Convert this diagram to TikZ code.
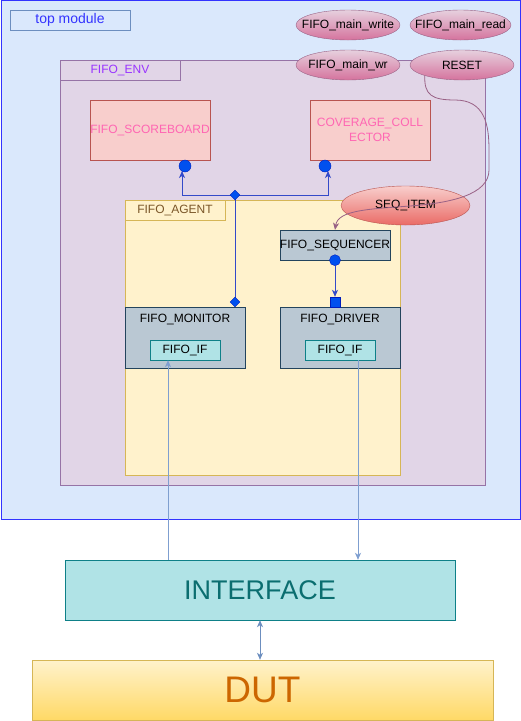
\documentclass[tikz,border=0pt]{standalone}
\usepackage{fontspec}
\setmainfont{Liberation Sans}
\usetikzlibrary{arrows.meta,shapes.geometric}
\definecolor{topfill}{HTML}{DAE8FC}
\definecolor{topdraw}{HTML}{3333FF}
\definecolor{bluegrey}{HTML}{6C8EBF}
\definecolor{envfill}{HTML}{E1D5E7}
\definecolor{envdraw}{HTML}{9673A6}
\definecolor{envtext}{HTML}{9933FF}
\definecolor{redfill}{HTML}{F8CECC}
\definecolor{reddraw}{HTML}{B85450}
\definecolor{pinktext}{HTML}{FF66B3}
\definecolor{agfill}{HTML}{FFF2CC}
\definecolor{agdraw}{HTML}{D6B656}
\definecolor{agtext}{HTML}{7A5628}
\definecolor{slatefill}{HTML}{BAC8D3}
\definecolor{slatedraw}{HTML}{23445D}
\definecolor{tealfill}{HTML}{B0E3E6}
\definecolor{tealdraw}{HTML}{0E8088}
\definecolor{tealtext}{HTML}{0B6E70}
\definecolor{elltop}{HTML}{E6D0DE}
\definecolor{ellbot}{HTML}{D5739D}
\definecolor{elldraw}{HTML}{996185}
\definecolor{seqbot}{HTML}{EA6B66}
\definecolor{dutbot}{HTML}{FFD966}
\definecolor{duttext}{HTML}{CC6600}
\definecolor{portfill}{HTML}{0050EF}
\definecolor{portdraw}{HTML}{001DBC}
\definecolor{ifline}{HTML}{7F9FD0}
\newcommand{\zw}[1]{\makebox[0pt]{#1}}
\tikzset{
  wh/.style 2 args={minimum width=#1pt, minimum height=#2pt, inner sep=0pt},
  lbl/.style={font=\fontsize{12}{14.5}\selectfont},
  plainbox/.style={draw, rectangle, lbl},
  pinkell/.style={ellipse, draw=elldraw, top color=elltop, bottom color=ellbot, lbl, inner sep=0pt},
  slatebox/.style={draw=slatedraw, fill=slatefill, rectangle, lbl},
  ifbox/.style={draw=tealdraw, fill=tealfill, rectangle, lbl},
  diaport/.style={diamond, draw=portdraw, fill=portfill, minimum size=10pt, inner sep=0pt},
  cirport/.style={circle, draw=portdraw, fill=portfill, minimum size=12pt, inner sep=0pt},
  sqport/.style={rectangle, draw=portdraw, fill=portfill, minimum size=10pt, inner sep=0pt},
  blueline/.style={draw=portdraw!80!white, line width=0.9pt},
  tip/.style={-{Stealth[length=7pt,width=6pt,inset=2pt]}},
}
\begin{document}
\begin{tikzpicture}[x=1pt,y=-1pt]
\useasboundingbox (0,0) rectangle (521,721);
% top module
\node[draw=topdraw, fill=topfill, line width=1pt, wh={519}{519}] (top) at (260.5,260) {};
\node[plainbox, draw=bluegrey, text=topdraw, wh={120}{20}, font=\fontsize{14}{16}\selectfont] (toplabel) at (70,20) {top module};
% ellipses
\node[pinkell, wh={104}{30}] (fmw) at (348,25) {\zw{FIFO\_main\_write}};
\node[pinkell, wh={101}{30}] (fmr) at (460.5,25) {\zw{FIFO\_main\_read}};
% env
\node[draw=envdraw, fill=envfill, wh={425}{425}] (env) at (272.5,272.5) {};
\node[plainbox, draw=envdraw, text=envtext, wh={120}{20}] (envlabel) at (120,70) {FIFO\_ENV};
\node[pinkell, wh={104}{30}] (fmwr) at (348,65) {\zw{FIFO\_main\_wr}};
\node[pinkell, wh={104}{30}] (reset) at (462,65) {\zw{RESET}};
% scoreboard & coverage
\node[plainbox, draw=reddraw, fill=redfill, text=pinktext, wh={120}{60}] (sb) at (150,130) {FIFO\_SCOREBOARD};
\node[plainbox, draw=reddraw, fill=redfill, text=pinktext, wh={120}{60}, align=center] (cov) at (370,130) {COVERAGE\_COLL\\ECTOR};
% agent
\node[draw=agdraw, fill=agfill, wh={275}{275}] (agent) at (262.5,337.5) {};
\node[plainbox, draw=agdraw, text=agtext, wh={100}{20}] (aglabel) at (175,210) {FIFO\_AGENT};
\node[slatebox, wh={110}{30}] (seq) at (335,245) {FIFO\_SEQUENCER};
\node[slatebox, wh={120}{61}, label={[lbl, anchor=center, yshift=-12.5pt]north:FIFO\_MONITOR}] (mon) at (185,337.5) {};
\node[slatebox, wh={120}{61}, label={[lbl, anchor=center, yshift=-12.5pt]north:FIFO\_DRIVER}] (drv) at (340,337.5) {};
\node[ifbox, wh={70}{20}] (monif) at (185,350) {FIFO\_IF};
\node[ifbox, wh={70}{20}] (drvif) at (340,350) {FIFO\_IF};
% seq item
\node[ellipse, draw=reddraw, top color=redfill, bottom color=seqbot, wh={129}{39}, lbl] (seqitem) at (405.5,205.5) {\zw{SEQ\_ITEM}};
% interface & dut
\node[plainbox, draw=tealdraw, fill=tealfill, text=tealtext, wh={390}{60}, font=\fontsize{27}{30}\selectfont] (iface) at (260,590) {INTERFACE};
\node[draw=agdraw, top color=agfill, bottom color=dutbot, text=duttext, wh={461}{60}, font=\fontsize{37}{40}\selectfont] (dut) at (262.5,690) {DUT};
% blue port connectors
\coordinate (j1) at (235,195);
\coordinate (j2) at (235,302);
\coordinate (sbarr) at (182,171);
\coordinate (covarr) at (328,171);
\draw[blueline] (j2) -- (j1);
\draw[blueline, tip] (j1) -| (sbarr);
\draw[blueline, tip] (j1) -| (covarr);
\node[cirport] (sbport) at (185,166) {};
\node[cirport] (covport) at (325,166) {};
\node[diaport] (j1d) at (j1) {};
\node[diaport] (j2d) at (j2) {};
\node[cirport, minimum size=11pt] (seqport) at (seq.south) {};
\node[sqport] (drvport) at (335,302) {};
\draw[blueline, tip] (seqport.south) -- (drvport.north);
% reset curve
\draw[elldraw, line width=0.8pt, -{Stealth[length=7pt,width=6pt,inset=2pt]}]
  (reset.196) .. controls (424,95) and (432,100) .. (455,100)
  .. controls (485,100) and (489,125) .. (489,150)
  -- (489,170)
  .. controls (489,195) and (450,203) .. (410,206)
  .. controls (370,209) and (338,210) .. (seq.north);
% interface lines
\draw[ifline, line width=0.9pt, {Stealth[length=7pt,width=6pt,inset=2pt]}-] ([xshift=-17pt]monif.south) -- ([xshift=-17pt]monif.south |- iface.north);
\draw[ifline, line width=0.9pt, tip] ([xshift=18pt]drvif.south) -- ([xshift=18pt]drvif.south |- iface.north);
\draw[bluegrey, line width=0.9pt, {Stealth[length=7pt,width=6pt,inset=2pt]}-{Stealth[length=7pt,width=6pt,inset=2pt]}] (iface.south) -- (iface.south |- dut.north);
\end{tikzpicture}
\end{document}
